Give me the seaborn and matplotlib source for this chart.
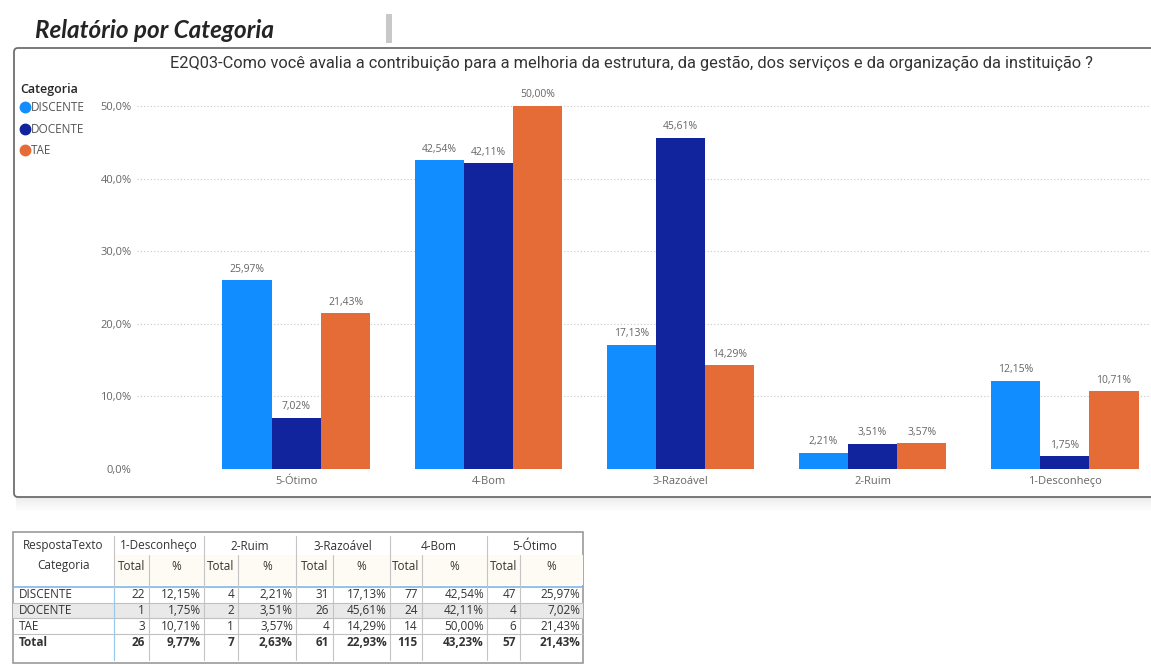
import pandas as pd
import seaborn as sns
import matplotlib.pyplot as plt
from matplotlib.lines import Line2D
from matplotlib.patches import FancyBboxPatch, Rectangle

# Chart data (percent per answer and category)
categories = ["5-Ótimo", "4-Bom", "3-Razoável", "2-Ruim", "1-Desconheço"]
groups = ["DISCENTE", "DOCENTE", "TAE"]
discente_pct = [25.97, 42.54, 17.13, 2.21, 12.15]
docente_pct = [7.02, 42.11, 45.61, 3.51, 1.75]
tae_pct = [21.43, 50.00, 14.29, 3.57, 10.71]
colors = ["#118DFF", "#12239E", "#E66C37"]
y_ticks = [0, 10, 20, 30, 40, 50]

# Table data
table_answers = ["1-Desconheço", "2-Ruim", "3-Razoável", "4-Bom", "5-Ótimo"]
discente_total = [22, 4, 31, 77, 47]
docente_total = [1, 2, 26, 24, 4]
tae_total = [3, 1, 4, 14, 6]
total_total = [26, 7, 61, 115, 57]
total_pct = [9.77, 2.63, 22.93, 43.23, 21.43]

W, H = 1151, 666


def pct(v, d=2):
    return f"{v:.{d}f}".replace(".", ",") + "%"


df = pd.DataFrame({
    "Resposta": categories * 3,
    "Categoria": [g for g in groups for _ in categories],
    "pct": discente_pct + docente_pct + tae_pct,
})

sns.set_theme(style="white")
plt.rcParams["font.family"] = ["Open Sans", "DejaVu Sans"]

fig = plt.figure(figsize=(W / 100, H / 100), dpi=100)
fig.patch.set_facecolor("white")

# background layer in pixel coordinates
bg = fig.add_axes([0, 0, 1, 1], zorder=-1)
bg.set_xlim(0, W)
bg.set_ylim(H, 0)
bg.axis("off")

# panel shadow + panel
for i, a in enumerate([0.08, 0.06, 0.05, 0.04, 0.03, 0.02, 0.01]):
    bg.add_patch(Rectangle((16, 497 + i * 2), 1150, 2, fc="black", alpha=a, lw=0))
bg.add_patch(FancyBboxPatch((14, 48), 1160, 449, boxstyle="round,pad=0,rounding_size=4",
                            fc="white", ec="#6e6e6e", lw=1.3))
bg.add_patch(Rectangle((386, 14), 6, 29, fc="#c8c8c8", lw=0))
bg.text(35, 31, "Relatório por Categoria", fontsize=17.5, fontweight="bold",
        fontstyle="italic", family="Lato", color="#252423", va="center")
bg.text(631, 63, "E2Q03-Como você avalia a contribuição para a melhoria da estrutura, da gestão, "
        "dos serviços e da organização da instituição ?", fontsize=11.8, family="Roboto",
        color="#333333", ha="center", va="center")

# main bar chart
ax = fig.add_axes([137 / W, 1 - 469 / H, (W - 137) / W, (469 - 75) / H])
ax.patch.set_alpha(0)
sns.barplot(data=df, x="Resposta", y="pct", hue="Categoria", order=categories,
            hue_order=groups, palette=colors, width=0.77, saturation=1,
            linewidth=0, legend=False, ax=ax)
ax.set_xlim(-0.83, 4.45)
ax.set_ylim(0, 54.27)
ax.set_yticks(y_ticks)
ax.set_yticklabels([pct(v, 1) for v in y_ticks])
ax.set_xlabel("")
ax.set_ylabel("")
ax.yaxis.grid(True, linestyle=(0, (1, 2)), color="#c8c8c8", lw=0.8)
ax.set_axisbelow(True)
for s in ax.spines.values():
    s.set_visible(False)
ax.tick_params(axis="both", length=0, labelsize=8, labelcolor="#666666")
ax.tick_params(axis="y", pad=4)
ax.tick_params(axis="x", pad=5)

for cont, vals in zip(ax.containers, [discente_pct, docente_pct, tae_pct]):
    ax.bar_label(cont, labels=[pct(v) for v in vals], padding=4, fontsize=7.5, color="#666666")

handles = [Line2D([], [], marker="o", ls="", color=c, markersize=7.5) for c in colors]
leg = fig.legend(handles, groups, title="Categoria", loc="upper left",
                 bbox_to_anchor=(16 / W, 1 - 78 / H), frameon=False, fontsize=8.5,
                 handlelength=0.8, handletextpad=0.1, labelspacing=0.72,
                 borderaxespad=0, alignment="left",
                 title_fontproperties={"weight": "semibold", "size": 9})
leg._legend_box.sep = 4
for t in leg.get_texts():
    t.set_color("#555555")

# table
edges = [13, 114, 149, 204, 238, 296, 333, 390, 422, 487, 520, 583]
top, bottom = 532, 663
bg.add_patch(Rectangle((13, top), 570, bottom - top, fc="none", ec="#9a9a9a", lw=1.2))
bg.add_patch(Rectangle((13, 603), 570, 15, fc="#e9e9e9", lw=0))
bg.add_patch(Rectangle((114, 555), 469, 30, fc="#fdfbf3", lw=0))
for yl in [603, 618, 634]:
    bg.plot([13, 583], [yl, yl], color="#c0c0c0", lw=0.8)
bg.plot([13, 583], [587, 587], color="#7fb6e6", lw=1.2)
for i, xl in enumerate(edges[1:-1]):
    y0 = 536 if i % 2 == 0 else 555
    bg.plot([xl, xl], [y0, 660], color="#c4c4c4", lw=0.8)
bg.plot([114, 114], [588, 660], color="#9cc8ee", lw=0.8)

tf = dict(fontsize=8.5, color="#333333", va="center")
bg.text((edges[0] + edges[1]) / 2, 546, "RespostaTexto", ha="center", **tf)
bg.text((edges[0] + edges[1]) / 2, 566, "Categoria", ha="center", **tf)
for i, ans in enumerate(table_answers):
    l, m, r = edges[1 + 2 * i], edges[2 + 2 * i], edges[3 + 2 * i]
    bg.text((l + r) / 2, 546, ans, ha="center", **tf)
    bg.text((l + m) / 2, 566, "Total", ha="center", **tf)
    bg.text((m + r) / 2, 566, "%", ha="center", **tf)

rows = [
    ("DISCENTE", discente_total, discente_pct[::-1], "normal"),
    ("DOCENTE", docente_total, docente_pct[::-1], "normal"),
    ("TAE", tae_total, tae_pct[::-1], "normal"),
    ("Total", total_total, total_pct, "bold"),
]
for j, (name, tots, pcts, wt) in enumerate(rows):
    y = 595 + j * 16
    bg.text(19, y, name, ha="left", fontweight=wt, **tf)
    for i in range(len(table_answers)):
        m, r = edges[2 + 2 * i], edges[3 + 2 * i]
        bg.text(m - 4, y, str(tots[i]), ha="right", fontweight=wt, **tf)
        bg.text(r - 3, y, pct(pcts[i]), ha="right", fontweight=wt, **tf)

plt.savefig("out.png", dpi=100, facecolor="white")
